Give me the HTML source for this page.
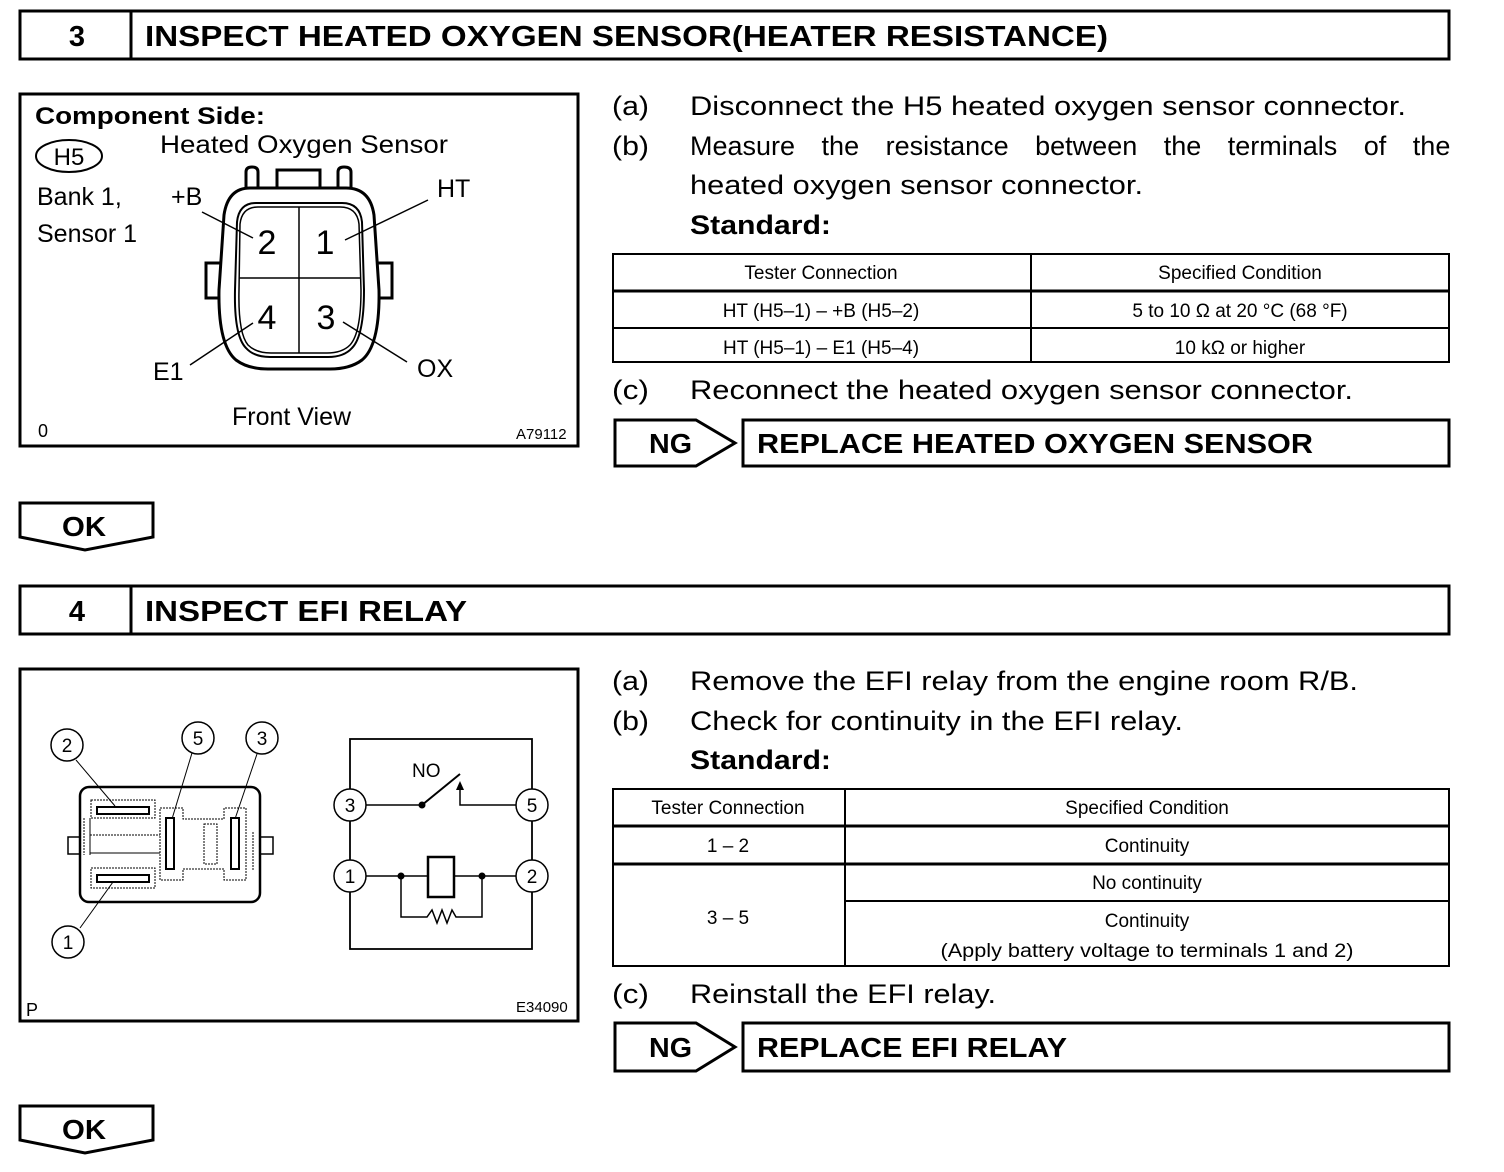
<!DOCTYPE html>
<html><head><meta charset="utf-8"><style>
html,body{margin:0;padding:0;background:#fff;}
svg{display:block;}
text{font-family:"Liberation Sans",sans-serif;fill:#000;}
.t{font-size:27px;}
.b{font-weight:bold;}
.s{font-size:19px;}
</style></head><body>
<svg width="1504" height="1172" viewBox="0 0 1504 1172" xmlns="http://www.w3.org/2000/svg">
<g fill="none" stroke="#000">
<rect x="20" y="11" width="1429" height="48" stroke-width="3"/>
<line x1="131" y1="11" x2="131" y2="59" stroke-width="3"/>
<rect x="20" y="586" width="1429" height="48" stroke-width="3"/>
<line x1="131" y1="586" x2="131" y2="634" stroke-width="3"/>
<rect x="20" y="94" width="558" height="352" stroke-width="3"/>
<rect x="20" y="669" width="558" height="352" stroke-width="3"/>
<rect x="613" y="254" width="836" height="108" stroke-width="2"/>
<line x1="613" y1="291" x2="1449" y2="291" stroke-width="3"/>
<line x1="613" y1="328" x2="1449" y2="328" stroke-width="2"/>
<line x1="1031" y1="254" x2="1031" y2="362" stroke-width="2"/>
<rect x="613" y="789" width="836" height="177" stroke-width="2"/>
<line x1="613" y1="826" x2="1449" y2="826" stroke-width="3"/>
<line x1="613" y1="864" x2="1449" y2="864" stroke-width="3"/>
<line x1="845" y1="901" x2="1449" y2="901" stroke-width="2"/>
<line x1="845" y1="789" x2="845" y2="966" stroke-width="2"/>
<path d="M615 420 H696 L735 443 L696 466 H615 Z" stroke-width="3"/>
<rect x="743" y="420" width="706" height="46" stroke-width="3"/>
<path d="M615 1023 H696 L735 1047 L696 1071 H615 Z" stroke-width="3"/>
<rect x="743" y="1023" width="706" height="48" stroke-width="3"/>
<path d="M20 503 V537 L85 550 L153 537 V503 Z" stroke-width="3"/>
<path d="M20 1106 V1140 L85 1153 L153 1140 V1106 Z" stroke-width="3"/>

<path d="M246 188 V172 Q246 167 252 167 Q258 167 258 172 V188" stroke-width="3"/>
<path d="M277 188 V170 H320 V188" stroke-width="3"/>
<path d="M338 188 V172 Q338 167 344 167 Q351 167 351 172 V188" stroke-width="3"/>
<path d="M222 263 H206 V298 H220" stroke-width="3"/>
<path d="M377 263 H392 V298 H378" stroke-width="3"/>
<path d="M250 188 H346 Q370 188 374 215 L379 290 Q380 345 362 360 Q350 369 330 369 H268 Q248 369 236 360 Q218 345 219 290 L224 215 Q228 188 250 188 Z" stroke-width="3"/>
<path d="M256 203 H342 Q360 203 362 222 L364 290 Q364 336 352 348 Q344 357 328 357 H270 Q254 357 246 348 Q234 336 235 290 L237 222 Q239 203 256 203 Z" stroke-width="2"/>
<path d="M258 207 H340 Q357 207 359 224 L361 290 Q361 333 350 345 Q342 353 327 353 H271 Q256 353 248 345 Q238 333 239 290 L240 224 Q242 207 258 207 Z" stroke-width="1.5"/>
<line x1="299" y1="207" x2="299" y2="353" stroke-width="1.5"/>
<line x1="239" y1="278" x2="361" y2="278" stroke-width="1.5"/>
<line x1="202" y1="212" x2="253" y2="238" stroke-width="1.5"/>
<line x1="428" y1="200" x2="345" y2="240" stroke-width="1.5"/>
<line x1="190" y1="365" x2="253" y2="323" stroke-width="1.5"/>
<line x1="407" y1="362" x2="343" y2="322" stroke-width="1.5"/>
<ellipse cx="69" cy="156" rx="33" ry="16" stroke-width="2"/>

<rect x="80" y="787" width="180" height="115" rx="9" stroke-width="2.5"/>
<rect x="68" y="837" width="12" height="17" stroke-width="1.5"/>
<rect x="260" y="837" width="13" height="17" stroke-width="1.5"/>
<rect x="91" y="800" width="64" height="18" stroke-width="1" stroke-dasharray="2 1"/>
<rect x="97" y="807" width="52" height="7" stroke-width="2"/>
<rect x="91" y="868" width="64" height="20" stroke-width="1" stroke-dasharray="2 1"/>
<rect x="97" y="875" width="52" height="7" stroke-width="2"/>
<path d="M160 808 H183 V819 H224 V808 H246 V880 H224 V869 H183 V880 H160 Z" stroke-width="1" stroke-dasharray="2 1"/>
<rect x="166" y="818" width="8" height="51" stroke-width="2"/>
<rect x="231" y="818" width="8" height="51" stroke-width="2"/>
<rect x="204" y="824" width="13" height="40" stroke-width="1" stroke-dasharray="2 1"/>
<line x1="90" y1="835" x2="160" y2="835" stroke-width="1" stroke-dasharray="2 1"/>
<line x1="90" y1="853" x2="160" y2="853" stroke-width="1"/>
<line x1="84" y1="818" x2="84" y2="855" stroke-width="1" stroke-dasharray="2 1"/>
<line x1="90" y1="818" x2="90" y2="855" stroke-width="1"/>
<line x1="253" y1="832" x2="253" y2="870" stroke-width="1" stroke-dasharray="2 1"/>
<circle cx="67" cy="745" r="16" stroke-width="1.5"/>
<circle cx="198" cy="738" r="16" stroke-width="1.5"/>
<circle cx="262" cy="738" r="16" stroke-width="1.5"/>
<circle cx="68" cy="942" r="16" stroke-width="1.5"/>
<line x1="76" y1="760" x2="115" y2="806" stroke-width="1"/>
<line x1="192" y1="753" x2="172" y2="819" stroke-width="1"/>
<line x1="257" y1="754" x2="235" y2="819" stroke-width="1"/>
<line x1="80" y1="928" x2="113" y2="882" stroke-width="1"/>
<rect x="350" y="739" width="182" height="210" stroke-width="1.8"/>
<line x1="366" y1="805" x2="422" y2="805" stroke-width="1.5"/>
<line x1="422" y1="805" x2="460" y2="774" stroke-width="2"/>
<path d="M460 788 V805 H516" stroke-width="1.5"/>
<line x1="366" y1="876" x2="428" y2="876" stroke-width="1.5"/>
<line x1="454" y1="876" x2="516" y2="876" stroke-width="1.5"/>
<rect x="428" y="857" width="26" height="40" stroke-width="2.5"/>
<path d="M401 876 V917 H427 L432 910 L437 923 L442 910 L447 923 L452 910 L456 917 H482 V876" stroke-width="1.5"/>
</g>
<g fill="#fff" stroke="#000" stroke-width="1.5">
<circle cx="350" cy="805" r="16"/><circle cx="532" cy="805" r="16"/>
<circle cx="350" cy="876" r="16"/><circle cx="532" cy="876" r="16"/>
</g>
<circle cx="422" cy="805" r="3.5"/><circle cx="401" cy="876" r="3.5"/><circle cx="482" cy="876" r="3.5"/>
<path d="M460 781 L456 790 H464 Z"/>

<text x="77" y="46" class="b" font-size="29" text-anchor="middle">3</text>
<text x="145" y="46" class="b" font-size="29" textLength="963" lengthAdjust="spacingAndGlyphs">INSPECT HEATED OXYGEN SENSOR(HEATER RESISTANCE)</text>
<text x="77" y="621" class="b" font-size="29" text-anchor="middle">4</text>
<text x="145" y="621" class="b" font-size="29" textLength="322" lengthAdjust="spacingAndGlyphs">INSPECT EFI RELAY</text>

<text x="612" y="115" class="t" textLength="37" lengthAdjust="spacingAndGlyphs">(a)</text>
<text x="690" y="115" class="t" textLength="716" lengthAdjust="spacingAndGlyphs">Disconnect the H5 heated oxygen sensor connector.</text>
<text x="612" y="155" class="t" textLength="37" lengthAdjust="spacingAndGlyphs">(b)</text>
<text x="690" y="155" class="t" word-spacing="19">Measure the resistance between the terminals of the</text>
<text x="690" y="194" class="t" textLength="453" lengthAdjust="spacingAndGlyphs">heated oxygen sensor connector.</text>
<text x="690" y="234" class="t b" textLength="141" lengthAdjust="spacingAndGlyphs">Standard:</text>
<text x="612" y="399" class="t" textLength="37" lengthAdjust="spacingAndGlyphs">(c)</text>
<text x="690" y="399" class="t" textLength="663" lengthAdjust="spacingAndGlyphs">Reconnect the heated oxygen sensor connector.</text>

<g text-anchor="middle">
<text x="821" y="279" font-size="19">Tester Connection</text>
<text x="1240" y="279" font-size="19">Specified Condition</text>
<text x="821" y="317" font-size="19">HT (H5–1) – +B (H5–2)</text>
<text x="1240" y="317" font-size="19">5 to 10 Ω at 20 °C (68 °F)</text>
<text x="821" y="354" font-size="19">HT (H5–1) – E1 (H5–4)</text>
<text x="1240" y="354" font-size="19">10 kΩ or higher</text>
</g>
<text x="649" y="453" class="b" font-size="28" textLength="43" lengthAdjust="spacingAndGlyphs">NG</text>
<text x="757" y="453" class="b" font-size="28" textLength="556" lengthAdjust="spacingAndGlyphs">REPLACE HEATED OXYGEN SENSOR</text>
<text x="62" y="536" class="b" font-size="28" textLength="44" lengthAdjust="spacingAndGlyphs">OK</text>

<text x="35" y="124" class="b" font-size="24" textLength="230" lengthAdjust="spacingAndGlyphs">Component Side:</text>
<text x="160" y="153" font-size="25" textLength="288" lengthAdjust="spacingAndGlyphs">Heated Oxygen Sensor</text>
<text x="69" y="165" font-size="24" text-anchor="middle">H5</text>
<text x="37" y="205" font-size="25">Bank 1,</text>
<text x="37" y="242" font-size="25">Sensor 1</text>
<text x="171" y="205" font-size="25">+B</text>
<text x="437" y="197" font-size="25">HT</text>
<text x="153" y="380" font-size="25">E1</text>
<text x="417" y="377" font-size="25">OX</text>
<text x="232" y="425" font-size="25">Front View</text>
<text x="38" y="437" font-size="18">0</text>
<text x="516" y="439" font-size="15">A79112</text>
<text x="267" y="254" font-size="34" text-anchor="middle">2</text>
<text x="325" y="254" font-size="34" text-anchor="middle">1</text>
<text x="267" y="329" font-size="34" text-anchor="middle">4</text>
<text x="326" y="329" font-size="34" text-anchor="middle">3</text>

<g font-size="19" text-anchor="middle">
<text x="67" y="752">2</text><text x="198" y="745">5</text><text x="262" y="745">3</text><text x="68" y="949">1</text>
<text x="350" y="812">3</text><text x="532" y="812">5</text><text x="350" y="883">1</text><text x="532" y="883">2</text>
</g>
<text x="412" y="777" font-size="19">NO</text>
<text x="26" y="1016" font-size="18">P</text>
<text x="516" y="1012" font-size="15">E34090</text>

<text x="612" y="690" class="t" textLength="37" lengthAdjust="spacingAndGlyphs">(a)</text>
<text x="690" y="690" class="t" textLength="668" lengthAdjust="spacingAndGlyphs">Remove the EFI relay from the engine room R/B.</text>
<text x="612" y="730" class="t" textLength="37" lengthAdjust="spacingAndGlyphs">(b)</text>
<text x="690" y="730" class="t" textLength="493" lengthAdjust="spacingAndGlyphs">Check for continuity in the EFI relay.</text>
<text x="690" y="769" class="t b" textLength="141" lengthAdjust="spacingAndGlyphs">Standard:</text>
<text x="612" y="1003" class="t" textLength="37" lengthAdjust="spacingAndGlyphs">(c)</text>
<text x="690" y="1003" class="t" textLength="306" lengthAdjust="spacingAndGlyphs">Reinstall the EFI relay.</text>

<g text-anchor="middle" font-size="19">
<text x="728" y="814">Tester Connection</text>
<text x="1147" y="814">Specified Condition</text>
<text x="728" y="852">1 – 2</text>
<text x="1147" y="852">Continuity</text>
<text x="1147" y="889">No continuity</text>
<text x="728" y="924">3 – 5</text>
<text x="1147" y="927">Continuity</text>
<text x="1147" y="957" textLength="413" lengthAdjust="spacingAndGlyphs">(Apply battery voltage to terminals 1 and 2)</text>
</g>
<text x="649" y="1057" class="b" font-size="28" textLength="43" lengthAdjust="spacingAndGlyphs">NG</text>
<text x="757" y="1057" class="b" font-size="28" textLength="310" lengthAdjust="spacingAndGlyphs">REPLACE EFI RELAY</text>
<text x="62" y="1139" class="b" font-size="28" textLength="44" lengthAdjust="spacingAndGlyphs">OK</text>
</svg>
</body></html>
